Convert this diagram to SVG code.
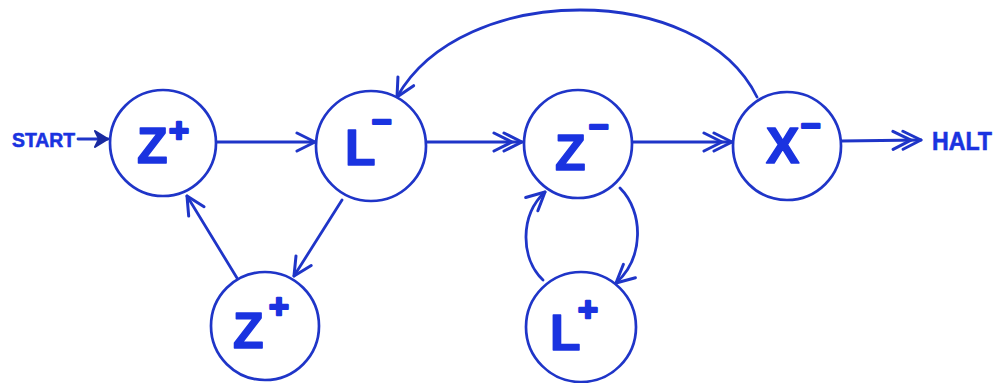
<svg xmlns="http://www.w3.org/2000/svg" width="1000" height="383" viewBox="0 0 1000 383">
  <style>
    .node circle { fill: #ffffff; stroke: #1f35c8; stroke-width: 2.7; }
    .sym { font-family: "Liberation Sans", Arial, sans-serif; font-weight: bold; fill: #1a33e0; stroke: #1a33e0; stroke-width: 1.5; stroke-linejoin: round; }
    .big { font-size: 50px; }
    .sup { font-size: 34px; stroke-width: 2.5; }
    .lbl { font-family: "Liberation Sans", Arial, sans-serif; font-weight: bold; fill: #1a33e0; stroke: #1a33e0; stroke-width: 0.6; }
    .edge { fill: none; stroke: #1f35c8; stroke-width: 2.8; stroke-linecap: round; }
  </style>
  <defs>
    <marker id="one" viewBox="-22 -12 24 24" refX="0" refY="0" markerWidth="24" markerHeight="24" markerUnits="userSpaceOnUse" orient="auto">
      <path d="M-18,-9 L0,0 L-18,9" fill="none" stroke="#1f35c8" stroke-width="3" stroke-linecap="round" stroke-linejoin="round"/>
    </marker>
    <marker id="two" viewBox="-32 -12 34 24" refX="0" refY="0" markerWidth="34" markerHeight="24" markerUnits="userSpaceOnUse" orient="auto">
      <path d="M-18,-9 L0,0 L-18,9 M-28,-9 L-10,0 L-28,9" fill="none" stroke="#1f35c8" stroke-width="3" stroke-linecap="round" stroke-linejoin="round"/>
    </marker>
    <marker id="solid" viewBox="-16 -10 18 20" refX="0" refY="0" markerWidth="18" markerHeight="20" markerUnits="userSpaceOnUse" orient="auto">
      <path d="M-13,-8 L0,0 L-13,8 L-9,0 Z" fill="#1a2aa0" stroke="#1a2aa0" stroke-width="2" stroke-linejoin="round"/>
    </marker>
  </defs>

  <!-- connectors -->
  <g id="edges">
    <path class="edge" d="M78,139 L108,139" marker-end="url(#solid)"/>
    <path class="edge" d="M216,142 L315,142" marker-end="url(#one)"/>
    <path class="edge" d="M426,142 L522,142" marker-end="url(#two)"/>
    <path class="edge" d="M632,142 L732,142" marker-end="url(#two)"/>
    <path class="edge" d="M841,141 L921,140" marker-end="url(#two)"/>
    <path class="edge" d="M342,200 L294,276" marker-end="url(#one)"/>
    <path class="edge" d="M237,278 L187,196" marker-end="url(#one)"/>
    <path class="edge" d="M620,188 C644,212 644,258 616,283" marker-end="url(#one)"/>
    <path class="edge" d="M543,280 C520,258 520,215 545,192" marker-end="url(#one)"/>
    <path class="edge" d="M757,97 C700,-19 462,-19 397,97" marker-end="url(#one)"/>
  </g>

  <!-- terminal labels -->
  <text class="lbl" x="12" y="147" font-size="20" textLength="63" lengthAdjust="spacingAndGlyphs">START</text>
  <text class="lbl" x="932" y="150" font-size="26" textLength="60" lengthAdjust="spacingAndGlyphs">HALT</text>

  <!-- nodes -->
  <g id="n-zplus-top" class="node">
    <circle cx="163" cy="143" r="53"/>
    <text class="sym big" x="137" y="163">Z</text>
    <text class="sym sup" x="169" y="142">+</text>
  </g>
  <g id="n-lminus" class="node">
    <circle cx="371" cy="146" r="55"/>
    <text class="sym big" x="345" y="165">L</text>
    <text class="sym sup" x="372" y="133">−</text>
  </g>
  <g id="n-zminus" class="node">
    <circle cx="578" cy="144" r="54"/>
    <text class="sym big" x="555" y="170">Z</text>
    <text class="sym sup" x="589" y="138">−</text>
  </g>
  <g id="n-xminus" class="node">
    <circle cx="787" cy="146" r="54"/>
    <text class="sym big" x="766" y="163">X</text>
    <text class="sym sup" x="801" y="137">−</text>
  </g>
  <g id="n-zplus-bottom" class="node">
    <circle cx="265" cy="326" r="54"/>
    <text class="sym big" x="233" y="348">Z</text>
    <text class="sym sup" x="269" y="318">+</text>
  </g>
  <g id="n-lplus" class="node">
    <circle cx="581" cy="327" r="55"/>
    <text class="sym big" x="550" y="350">L</text>
    <text class="sym sup" x="578" y="321">+</text>
  </g>
</svg>
